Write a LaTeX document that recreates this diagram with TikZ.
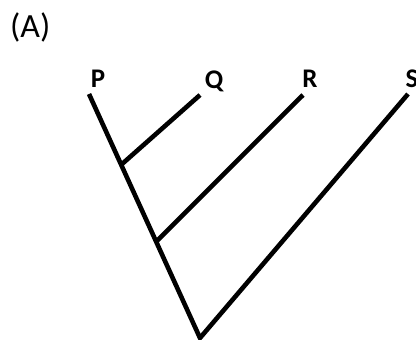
\documentclass[tikz,border=0pt]{standalone}
\usepackage{fontspec}
\setmainfont{Carlito}
\usetikzlibrary{calc}
\begin{document}
\begin{tikzpicture}[x=1bp,y=1bp,
  branch/.style={line width=4.6bp, line cap=butt, line join=miter},
  taxon/.style={font=\fontsize{27}{30}\selectfont\bfseries, inner sep=0pt},
  panel/.style={font=\fontsize{34}{38}\selectfont, inner sep=0pt}]
\useasboundingbox (0,0) rectangle (416,340);
% labels
\node[panel, anchor=west] (lab) at (10,313) {(A)};
\node[taxon] (tP) at (98,261) {P};
\node[taxon] (tQ) at (214,259) {Q};
\node[taxon] (tR) at (310,261) {R};
\node[taxon] (tS) at (412,261) {S};
% tips and root
\coordinate (P) at (89,246);
\coordinate (Q) at (200,245);
\coordinate (R) at (303,245);
\coordinate (S) at (408,246);
\coordinate (root) at (200,2);
\coordinate (jQ) at ($(P)!0.29!(root)$);
\coordinate (jR) at ($(P)!0.605!(root)$);
% branches
\draw[branch] (P) -- (root) -- (S);
\draw[branch] (Q) -- (jQ);
\draw[branch] (R) -- (jR);
\end{tikzpicture}
\end{document}
